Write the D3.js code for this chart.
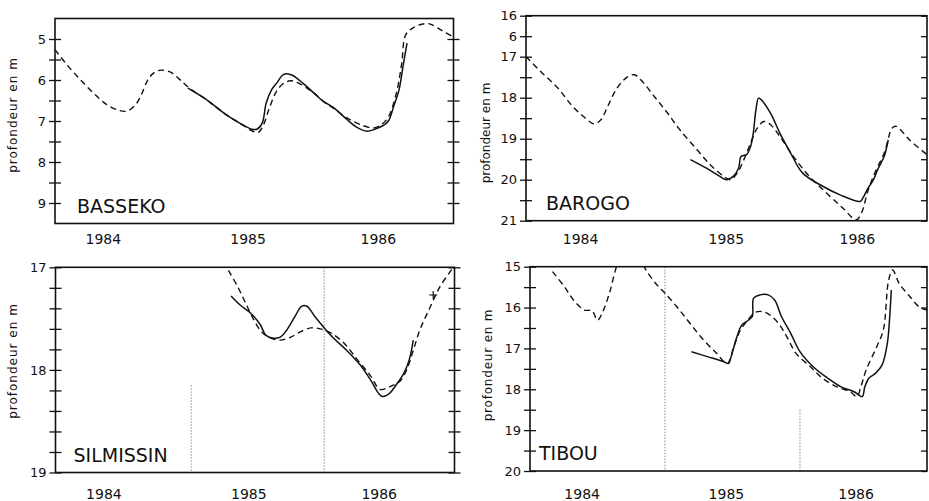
<!DOCTYPE html>
<html>
<head>
<meta charset="utf-8">
<script src="https://cdn.jsdelivr.net/npm/d3@7"></script>
<style>
  body { margin: 0; background: #fff; }
  svg text { font-family: "DejaVu Sans", sans-serif; fill: #111; }
</style>
</head>
<body>
<div id="chart"></div>
<script>
// year labels (positions along the time axis, as printed)
const years = [1984.36, 1985.45, 1986.43];
const yearLabels = ["1984", "1985", "1986"];

// BASSEKO : [decimal year, depth in m]
const bassekoDashed = [
  [1984.00, 5.26], [1984.09, 5.63], [1984.19, 5.99], [1984.29, 6.32], [1984.39, 6.60],
  [1984.48, 6.74], [1984.54, 6.76], [1984.60, 6.63], [1984.65, 6.36], [1984.70, 5.99],
  [1984.75, 5.81], [1984.80, 5.76], [1984.87, 5.81], [1984.94, 5.99], [1985.02, 6.22],
  [1985.14, 6.48], [1985.29, 6.85], [1985.39, 7.05], [1985.49, 7.25], [1985.53, 7.28],
  [1985.57, 7.09], [1985.61, 6.72], [1985.66, 6.32], [1985.71, 6.11], [1985.77, 6.02],
  [1985.83, 6.07], [1985.95, 6.32], [1986.02, 6.52], [1986.10, 6.70], [1986.20, 6.93],
  [1986.30, 7.09], [1986.40, 7.17], [1986.46, 7.08], [1986.51, 6.90], [1986.57, 6.32],
  [1986.61, 5.60], [1986.64, 4.90], [1986.70, 4.72], [1986.76, 4.64], [1986.82, 4.63],
  [1986.92, 4.81], [1987.00, 4.95]
];
const bassekoSolid = [
  [1985.00, 6.20], [1985.14, 6.48], [1985.29, 6.85], [1985.39, 7.05], [1985.48, 7.20],
  [1985.52, 7.20], [1985.56, 7.05], [1985.59, 6.56], [1985.63, 6.24], [1985.67, 6.07],
  [1985.71, 5.89], [1985.74, 5.85], [1985.79, 5.89], [1985.87, 6.09], [1985.95, 6.32],
  [1986.02, 6.52], [1986.10, 6.68], [1986.20, 6.97], [1986.27, 7.15], [1986.35, 7.25],
  [1986.40, 7.21], [1986.47, 7.11], [1986.51, 7.00], [1986.55, 6.64], [1986.59, 6.24],
  [1986.62, 5.67], [1986.65, 5.10]
];

// BAROGO
const barogoDashed = [
  [1984.00, 17.00], [1984.11, 17.36], [1984.24, 17.77], [1984.34, 18.18], [1984.43, 18.46],
  [1984.51, 18.64], [1984.56, 18.54], [1984.61, 18.22], [1984.68, 17.77], [1984.76, 17.49],
  [1984.81, 17.44], [1984.86, 17.57], [1984.96, 17.97], [1985.06, 18.38], [1985.15, 18.78],
  [1985.28, 19.27], [1985.38, 19.64], [1985.48, 19.92], [1985.53, 20.00], [1985.58, 19.84],
  [1985.63, 19.51], [1985.68, 19.11], [1985.73, 18.74], [1985.78, 18.58], [1985.83, 18.66],
  [1985.90, 18.95], [1986.00, 19.43], [1986.12, 19.92], [1986.25, 20.33], [1986.37, 20.69],
  [1986.47, 20.98], [1986.51, 20.81], [1986.56, 20.25], [1986.62, 19.76], [1986.68, 19.35],
  [1986.74, 18.74], [1986.77, 18.70], [1986.87, 19.03], [1987.00, 19.39]
];
const barogoSolid = [
  [1985.23, 19.51], [1985.35, 19.72], [1985.45, 19.92], [1985.50, 20.00], [1985.55, 19.92],
  [1985.59, 19.72], [1985.61, 19.43], [1985.65, 19.39], [1985.68, 19.19], [1985.70, 18.87],
  [1985.72, 18.30], [1985.74, 18.01], [1985.76, 18.05], [1985.83, 18.38], [1985.90, 18.87],
  [1985.98, 19.35], [1986.07, 19.84], [1986.22, 20.16], [1986.35, 20.37], [1986.50, 20.53],
  [1986.52, 20.45], [1986.56, 20.20], [1986.60, 20.00], [1986.63, 19.76], [1986.68, 19.43],
  [1986.71, 19.03]
];

// SILMISSIN
const silmissinDashed = [
  [1985.30, 17.03], [1985.37, 17.19], [1985.43, 17.35], [1985.49, 17.51], [1985.55, 17.63],
  [1985.62, 17.69], [1985.69, 17.71], [1985.77, 17.68], [1985.84, 17.63], [1985.92, 17.59],
  [1985.99, 17.60], [1986.07, 17.64], [1986.17, 17.74], [1986.27, 17.90], [1986.37, 18.06],
  [1986.44, 18.19], [1986.52, 18.16], [1986.59, 18.11], [1986.64, 18.00], [1986.69, 17.81],
  [1986.74, 17.61], [1986.82, 17.38], [1986.89, 17.19], [1986.98, 17.02]
];
const silmissinSolid = [
  [1985.32, 17.28], [1985.39, 17.37], [1985.47, 17.45], [1985.54, 17.56], [1985.58, 17.66],
  [1985.63, 17.69], [1985.69, 17.68], [1985.74, 17.61], [1985.80, 17.48], [1985.85, 17.38],
  [1985.89, 17.38], [1985.95, 17.48], [1986.02, 17.59], [1986.09, 17.69], [1986.19, 17.81],
  [1986.29, 17.95], [1986.37, 18.10], [1986.43, 18.23], [1986.46, 18.26], [1986.51, 18.23],
  [1986.57, 18.13], [1986.62, 18.03], [1986.66, 17.90], [1986.69, 17.71]
];
const silmissinCross = [[1986.84, 17.27]];

// TIBOU
const tibouDashed = [
  [1984.17, 15.12], [1984.26, 15.49], [1984.33, 15.82], [1984.41, 16.06], [1984.47, 16.08],
  [1984.51, 16.31], [1984.55, 16.10], [1984.60, 15.65], [1984.65, 15.04], [1984.70, 14.60],
  [1984.76, 14.45], [1984.82, 14.60], [1984.87, 15.04], [1984.95, 15.41], [1985.02, 15.65],
  [1985.11, 15.98], [1985.21, 16.39], [1985.31, 16.79], [1985.41, 17.12], [1985.49, 17.37],
  [1985.54, 16.96], [1985.59, 16.55], [1985.64, 16.33], [1985.70, 16.12], [1985.76, 16.10],
  [1985.82, 16.20], [1985.88, 16.40], [1985.94, 16.71], [1986.01, 17.12], [1986.12, 17.45],
  [1986.21, 17.73], [1986.32, 17.94], [1986.42, 18.06], [1986.47, 18.18], [1986.50, 17.94],
  [1986.54, 17.53], [1986.62, 16.96], [1986.67, 16.55], [1986.71, 15.33], [1986.74, 15.08],
  [1986.79, 15.41], [1986.87, 15.73], [1986.94, 15.98], [1987.00, 16.06]
];
const tibouSolid = [
  [1985.22, 17.08], [1985.34, 17.20], [1985.46, 17.32], [1985.50, 17.37], [1985.52, 17.20],
  [1985.56, 16.75], [1985.60, 16.43], [1985.65, 16.31], [1985.68, 16.22], [1985.69, 15.77],
  [1985.74, 15.69], [1985.80, 15.69], [1985.85, 15.82], [1985.90, 16.22], [1985.97, 16.63],
  [1986.04, 17.08], [1986.14, 17.45], [1986.25, 17.73], [1986.35, 17.94], [1986.45, 18.06],
  [1986.51, 18.18], [1986.53, 17.94], [1986.56, 17.73], [1986.61, 17.61], [1986.66, 17.41],
  [1986.70, 16.88], [1986.72, 16.14], [1986.73, 15.57]
];

// y tick values and their labels
const bassekoTicks = [5, 5.5, 6, 6.5, 7, 7.5, 8, 8.5, 9];
const bassekoTickLabels = ["5", "", "6", "", "7", "", "8", "", "9"];
const barogoTicks = [16, 16.5, 17, 17.5, 18, 18.5, 19, 19.5, 20, 20.5, 21];
const barogoTickLabels = ["16", "6", "17", "", "18", "", "19", "", "20", "", "21"];
const silmissinTicks = [17, 17.2, 17.4, 17.6, 17.8, 18, 18.2, 18.4, 18.6, 18.8, 19];
const silmissinTickLabels = ["17", "", "", "", "", "18", "", "", "", "", "19"];
const tibouTicks = [15, 15.5, 16, 16.5, 17, 17.5, 18, 18.5, 19, 19.5, 20];
const tibouTickLabels = ["15", "", "16", "", "17", "", "18", "", "19", "", "20"];

// faint vertical year lines: [year, depth from, depth to]
const silmissinYearLines = [[1985.02, 18.15, 19], [1986.02, 17, 19]];
const tibouYearLines = [[1985.02, 15, 20], [1986.04, 18.5, 20]];

const width = 929, height = 501;

const panels = [
  { name: "BASSEKO", left: 55, right: 453.5, top: 18.5, bottom: 223.5, domain: [4.5, 9.5],
    ticks: bassekoTicks, tickLabels: bassekoTickLabels, dashed: bassekoDashed, solid: bassekoSolid,
    lines: [], titleX: 17, titleY: 115, ls: 1, labelPad: 11, labelShift: 0, nameDx: 22, rightOuter: true },
  { name: "BAROGO", left: 526, right: 927, top: 15.7, bottom: 220.7, domain: [16, 21],
    ticks: barogoTicks, tickLabels: barogoTickLabels, dashed: barogoDashed, solid: barogoSolid,
    lines: [], titleX: 490, titleY: 133, ls: 0, labelPad: 13, labelShift: 6, nameDx: 20, rightOuter: false },
  { name: "SILMISSIN", left: 55.5, right: 454.5, top: 267.3, bottom: 472.5, domain: [17, 19],
    ticks: silmissinTicks, tickLabels: silmissinTickLabels, dashed: silmissinDashed, solid: silmissinSolid,
    lines: silmissinYearLines, cross: silmissinCross, titleX: 17, titleY: 361, ls: 1, labelPad: 17,
    labelShift: 0, nameDx: 18, rightOuter: true },
  { name: "TIBOU", left: 530, right: 927, top: 266.7, bottom: 471, domain: [15, 20],
    ticks: tibouTicks, tickLabels: tibouTickLabels, dashed: tibouDashed, solid: tibouSolid,
    lines: tibouYearLines, titleX: 492, titleY: 365, ls: 0.8, labelPad: 18, labelShift: 4, nameDx: 9,
    rightOuter: false }
];

const svg = d3.select("#chart").append("svg")
  .attr("width", width)
  .attr("height", height);

panels.forEach((p, i) => {
  const x = d3.scaleLinear().domain([1984, 1987]).range([p.left, p.right]);
  const y = d3.scaleLinear().domain(p.domain).range([p.top, p.bottom]);
  const g = svg.append("g");

  // clip for the curves
  const clipId = "clip" + i;
  svg.append("clipPath").attr("id", clipId)
    .append("rect")
    .attr("x", p.left).attr("y", p.top)
    .attr("width", p.right - p.left).attr("height", p.bottom - p.top);

  // year separators
  g.selectAll(".yl").data(p.lines).enter().append("line")
    .attr("x1", d => x(d[0])).attr("x2", d => x(d[0]))
    .attr("y1", d => y(d[1])).attr("y2", d => y(d[2]))
    .attr("stroke", "#888").attr("stroke-width", 1).attr("stroke-dasharray", "1.5,1.5");

  // frame
  g.append("rect")
    .attr("x", p.left).attr("y", p.top)
    .attr("width", p.right - p.left).attr("height", p.bottom - p.top)
    .attr("fill", "none").attr("stroke", "#111").attr("stroke-width", 1.6);

  // left axis: ticks crossing the frame
  const leftOut = d3.axisLeft(y).tickValues(p.ticks).tickSize(6).tickPadding(3)
    .tickFormat((d, k) => p.tickLabels[k]);
  const la = g.append("g").attr("transform", `translate(${p.left},0)`).call(leftOut);
  la.select(".domain").remove();
  la.selectAll("text").style("font-size", "13px");
  const leftIn = d3.axisRight(y).tickValues(p.ticks).tickSize(6).tickFormat("");
  g.append("g").attr("transform", `translate(${p.left},0)`).call(leftIn)
    .select(".domain").remove();

  // right frame ticks
  const rightIn = d3.axisLeft(y).tickValues(p.ticks).tickSize(6).tickFormat("");
  g.append("g").attr("transform", `translate(${p.right},0)`).call(rightIn)
    .select(".domain").remove();
  if (p.rightOuter) {
    const rightOut = d3.axisRight(y).tickValues(p.ticks).tickSize(6).tickFormat("");
    g.append("g").attr("transform", `translate(${p.right},0)`).call(rightOut)
      .select(".domain").remove();
  }
  g.selectAll(".tick line").attr("stroke", "#111").attr("stroke-width", 1.3);

  // bottom axis: year labels only
  const xa = g.append("g").attr("transform", `translate(${p.labelShift},${p.bottom})`)
    .call(d3.axisBottom(x).tickValues(years).tickSize(0).tickPadding(p.labelPad)
      .tickFormat((d, k) => yearLabels[k]));
  xa.select(".domain").remove();
  xa.selectAll("text").style("font-size", "14px");

  // y title
  g.append("text")
    .attr("transform", `translate(${p.titleX},${p.titleY}) rotate(-90)`)
    .attr("text-anchor", "middle")
    .style("font-size", "12px")
    .style("letter-spacing", p.ls + "px")
    .text("profondeur en m");

  // station name
  g.append("text")
    .attr("x", p.left + p.nameDx).attr("y", p.bottom - 11)
    .style("font-size", "19px")
    .text(p.name);

  const line = d3.line()
    .x(d => x(d[0])).y(d => y(d[1]))
    .curve(d3.curveCatmullRom.alpha(0.5));

  const curves = g.append("g").attr("clip-path", `url(#${clipId})`);
  curves.append("path").datum(p.dashed)
    .attr("d", line).attr("fill", "none")
    .attr("stroke", "#111").attr("stroke-width", 1.4).attr("stroke-dasharray", "6,4");
  curves.append("path").datum(p.solid)
    .attr("d", line).attr("fill", "none")
    .attr("stroke", "#111").attr("stroke-width", 1.5);

  if (p.cross) {
    curves.selectAll(".cross").data(p.cross).enter().append("path")
      .attr("d", d => `M${x(d[0]) - 4},${y(d[1])}h8M${x(d[0])},${y(d[1]) - 4}v8`)
      .attr("stroke", "#111").attr("stroke-width", 1.2);
  }
});
</script>
</body>
</html>
